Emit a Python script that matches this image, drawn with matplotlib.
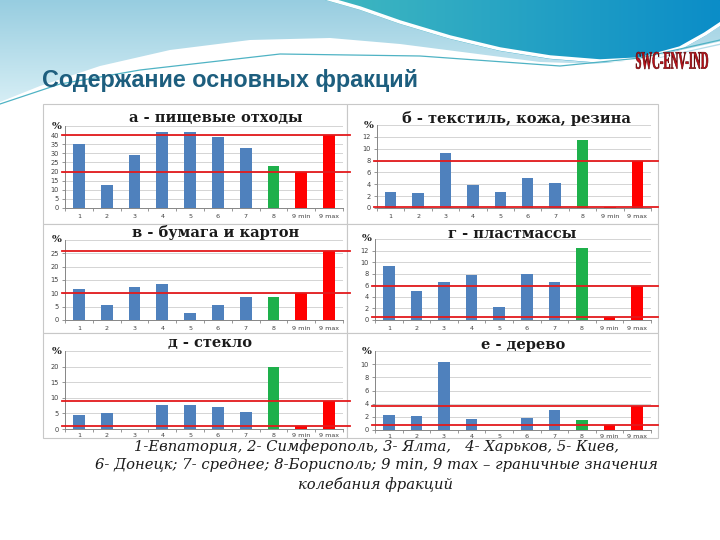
import numpy as np
import matplotlib
matplotlib.use('Agg')
import matplotlib.pyplot as plt
from matplotlib.patches import Polygon, Rectangle, PathPatch
from matplotlib.textpath import TextPath
from matplotlib.font_manager import FontProperties
from matplotlib.transforms import Affine2D

# ---------------- data ----------------
categories = ['1', '2', '3', '4', '5', '6', '7', '8', '9 min', '9 max']
food = [35, 12.5, 29, 41.5, 41.5, 39, 33, 23, 20, 40]
textile = [2.7, 2.5, 9.2, 3.8, 2.7, 5.0, 4.3, 11.5, 0.2, 8.0]
paper = [11.5, 5.5, 12.5, 13.5, 2.7, 5.8, 8.5, 8.8, 10.2, 26.0]
plastic = [9.3, 5.0, 6.5, 7.7, 2.3, 7.9, 6.5, 12.4, 0.5, 5.9]
glass = [4.5, 5.0, 0.0, 7.6, 7.6, 7.0, 5.3, 20.0, 1.0, 9.0]
wood = [2.3, 2.1, 10.4, 1.7, 0.0, 1.8, 3.0, 1.5, 0.7, 3.7]

panel_titles = ['а - пищевые отходы', 'б - текстиль, кожа, резина',
                'в - бумага и картон', 'г - пластмассы',
                'д - стекло', 'е - дерево']
y_max = [45, 14, 30, 14, 25, 12]
y_step = [5, 2, 5, 2, 5, 2]
y_top_tick = [40, 12, 25, 12, 20, 10]

main_title = 'Содержание основных фракций'
legend_lines = ['1-Евпатория, 2- Симферополь, 3- Ялта,   4- Харьков, 5- Киев,',
                '6- Донецк; 7- среднее; 8-Борисполь; 9 min, 9 max – граничные значения',
                'колебания фракций']

# ---------------- figure ----------------
W, H = 720, 540
fig = plt.figure(figsize=(7.2, 5.4), dpi=100)
fig.patch.set_facecolor('white')

bg = fig.add_axes([0, 0, 1, 1], zorder=-10)
bg.set_xlim(0, W)
bg.set_ylim(H, 0)
bg.axis('off')


def grad_fill(ax, pts, c0, c1, horizontal=True, z=0):
    poly = Polygon(pts, closed=True, facecolor='none', edgecolor='none', zorder=z)
    ax.add_patch(poly)
    xs = [p[0] for p in pts]
    ys = [p[1] for p in pts]
    g = np.linspace(0, 1, 256)
    c0 = np.array(matplotlib.colors.to_rgb(c0))
    c1 = np.array(matplotlib.colors.to_rgb(c1))
    cols = c0[None, :] * (1 - g[:, None]) + c1[None, :] * g[:, None]
    img = cols[None, :, :] if horizontal else cols[:, None, :]
    im = ax.imshow(img, extent=(min(xs), max(xs), max(ys), min(ys)), aspect='auto',
                   zorder=z, interpolation='bilinear')
    im.set_clip_path(poly)


# header decoration
light_pts = [(0, 0), (720, 0), (720, 45), (660, 58), (600, 64), (540, 62), (470, 53),
             (400, 44), (330, 38), (250, 40), (170, 50), (100, 66), (40, 86), (0, 102)]
grad_fill(bg, light_pts, '#97cde0', '#d6eef5', horizontal=False, z=1)

teal_pts = [(325, 0), (360, 10), (400, 24), (450, 39), (500, 51), (550, 59), (600, 63),
            (640, 61), (680, 50), (705, 36), (720, 26), (720, 0)]
grad_fill(bg, teal_pts, '#40b8c0', '#0b8dc8', horizontal=True, z=2)
bg.plot([p[0] for p in teal_pts[:-1]], [p[1] - 2 for p in teal_pts[:-1]],
        color='white', lw=2.5, zorder=3)

sx = np.array([0, 60, 140, 280, 420, 560, 640, 720])
sy = np.array([104, 84, 70, 54, 56, 66, 58, 40])
bg.plot(sx, sy, color='#4fb3c4', lw=0.9, zorder=3)
bg.plot(sx, sy + 2.5, color='white', lw=1.5, zorder=3)

# title
bg.text(42, 80, main_title, fontsize=16.8, fontweight='bold', color='#1d5e7e',
        family='Liberation Sans', ha='left', va='center', zorder=5)

# logo (squashed text)
fp = FontProperties(family='Liberation Serif', weight='bold')
tp = TextPath((0, 0), 'SWC-ENV-IND', size=20, prop=fp)
bb = tp.get_extents()
tr = (Affine2D().translate(-bb.x0, -bb.y0).scale(72 / bb.width, -17 / bb.height)
      .translate(636, 69) + bg.transData)
bg.add_patch(PathPatch(tp, facecolor='#c4101a', edgecolor='#5a0000', lw=0.4,
                       transform=tr, zorder=5))

# legend text (behind chart frames)
legend_y = [447, 465, 484]
for txt, yy in zip(legend_lines, legend_y):
    bg.text(376, yy, txt, fontsize=10.6, style='italic', family='DejaVu Serif',
            ha='center', va='center', color='#1a1a1a', zorder=4)

# chart frames
col_x = [(43, 347), (347, 658)]
row_y = [(104, 224), (224, 333), (333, 438)]
for (y0, y1) in row_y:
    for (x0, x1) in col_x:
        bg.add_patch(Rectangle((x0, y0), x1 - x0, y1 - y0, facecolor='white',
                               edgecolor='#c8c8c8', lw=0.8, zorder=6))

# plot-area rectangles (pixels): x0, x1, ytop, ybottom
areas = [(65, 343, 126, 208), (377, 651, 125, 208),
         (65, 343, 240, 320), (375, 651, 239, 320),
         (65, 343, 351, 429), (375, 651, 351, 430)]
title_pos = [(216, 118), (516, 118), (216, 233), (512, 234), (210, 343), (523, 345)]
line_right = [350, 658, 350, 658, 350, 658]
series = [food, textile, paper, plastic, glass, wood]

bar_colors = ['#4f81bd'] * 7 + ['#1eb04b'] + ['#ff0000'] * 2
x = np.arange(len(categories))

for i, vals in enumerate(series):
    x0, x1, yt, yb = areas[i]
    ax = fig.add_axes([x0 / W, 1 - yb / H, (x1 - x0) / W, (yb - yt) / H])
    ax.set_facecolor('none')
    ax.bar(x, vals, width=0.42, color=bar_colors, zorder=3)
    ax.set_xlim(-0.5, len(categories) - 0.5)
    ax.set_ylim(0, y_max[i])
    yt_vals = np.arange(0, y_top_tick[i] + 0.1, y_step[i])
    ax.set_yticks(yt_vals)
    ax.set_yticklabels([f'{int(v)}' for v in yt_vals])
    ax.set_xticks(x)
    ax.set_xticklabels(categories)
    ax.set_xticks(np.arange(-0.5, len(categories), 1), minor=True)
    ax.tick_params(axis='x', which='major', length=0, labelsize=4.6, colors='#404040',
                   pad=3 if i >= 4 else 4)
    ax.tick_params(axis='x', which='minor', length=2.5, color='#868686', width=0.6)
    ax.tick_params(axis='y', which='major', length=2.5, labelsize=4.8, colors='#404040',
                   color='#868686', width=0.6, pad=2)
    for v in list(yt_vals[1:]) + [y_max[i]]:
        ax.axhline(v, color='#d4d4d4', lw=0.7, zorder=1)
    for s in ['top', 'right']:
        ax.spines[s].set_visible(False)
    for s in ['left', 'bottom']:
        ax.spines[s].set_color('#868686')
        ax.spines[s].set_linewidth(0.7)
    # boundary red lines (9 min, 9 max)
    xr = (line_right[i] - x0) / (x1 - x0)
    xl = -3 / (x1 - x0)
    for v in (vals[8], vals[9]):
        ax.plot([xl, xr], [v, v], color='#e31a1c', lw=1.3, zorder=4,
                transform=ax.get_yaxis_transform(), clip_on=False)
    ax.text(-0.012, y_max[i], '%', transform=ax.get_yaxis_transform(), ha='right',
            va='center', fontsize=7.5, fontweight='bold', family='DejaVu Serif',
            color='#202020')
    tx, ty = title_pos[i]
    fig.text(tx / W, 1 - ty / H, panel_titles[i], ha='center', va='center',
             fontsize=10.5, fontweight='bold', family='DejaVu Serif', color='#1a1a1a')

fig.savefig('out.png', dpi=100, facecolor='white')
